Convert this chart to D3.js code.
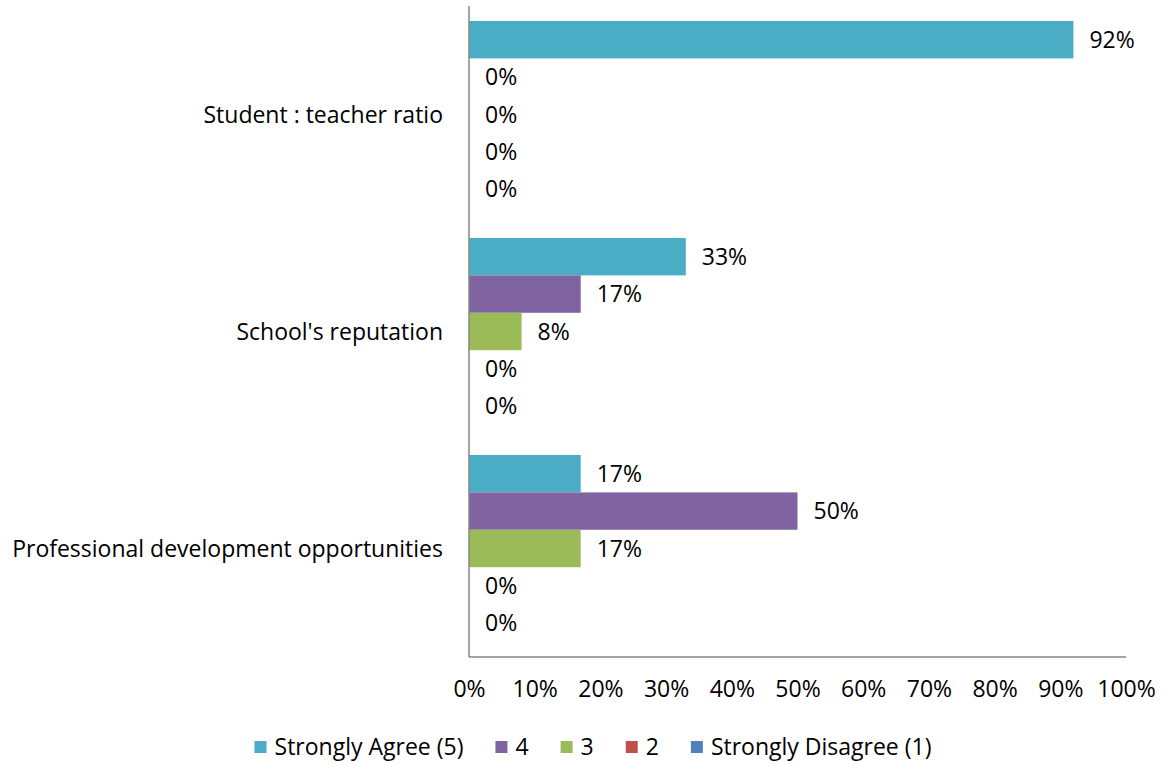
<!DOCTYPE html>
<html><head><meta charset="utf-8">
<script src="https://cdn.jsdelivr.net/npm/d3@7"></script>
<style>
body{margin:0;background:#fff;}
text{font-family:"Open Sans", sans-serif;fill:#000;}
</style></head>
<body><svg id="c" width="1164" height="765"></svg>
<script>
const categories = ["Student : teacher ratio", "School's reputation", "Professional development opportunities"];
const seriesNames = ["Strongly Agree (5)", "4", "3", "2", "Strongly Disagree (1)"];
const seriesColors = ["#4BACC6", "#8064A2", "#9BBB59", "#C0504D", "#4F81BD"];
// values[series][category], percent
const values = [
  [92, 33, 17],
  [0, 17, 50],
  [0, 8, 17],
  [0, 0, 0],
  [0, 0, 0]
];
const xTicks = [0,10,20,30,40,50,60,70,80,90,100];

(function(){
const FS = 23;
const svg = d3.select("#c");
const pLeft = 469, pRight = 1126, pTop = 6, pBottom = 657;
const x = d3.scaleLinear().domain([0,100]).range([pLeft,pRight]);
const y0 = d3.scaleBand().domain(categories).range([pTop,pBottom]).paddingInner(0.138).paddingOuter(0.069);
const y1 = d3.scaleBand().domain(seriesNames).range([0,y0.bandwidth()]);

const g = svg.append("g");
categories.forEach((cat,ci)=>{
  seriesNames.forEach((s,si)=>{
    const v = values[si][ci];
    const yy = y0(cat)+y1(s);
    g.append("rect").attr("x",x(0)).attr("y",yy).attr("width",x(v)-x(0)).attr("height",y1.bandwidth())
      .attr("fill",seriesColors[si]);
    g.append("text").attr("x",x(v)+16).attr("y",yy+y1.bandwidth()/2).attr("dy","0.35em")
      .attr("font-size",FS).text(v+"%");
  });
  svg.append("text").attr("x",443).attr("y",y0(cat)+y0.bandwidth()/2).attr("dy","0.35em")
    .attr("text-anchor","end").attr("font-size",FS).text(cat);
});

svg.append("line").attr("x1",pLeft).attr("x2",pLeft).attr("y1",pTop).attr("y2",pBottom).attr("stroke","#868686").attr("stroke-width",1.5);
svg.append("line").attr("x1",pLeft).attr("x2",pRight).attr("y1",pBottom).attr("y2",pBottom).attr("stroke","#868686").attr("stroke-width",1.5);

const xa = svg.append("g").attr("transform",`translate(0,${pBottom})`)
  .call(d3.axisBottom(x).tickValues(xTicks).tickFormat(d=>d+"%").tickSize(0).tickPadding(24));
xa.select(".domain").remove();
xa.selectAll("text").attr("font-size",FS).attr("fill","#000").style("font-family","'Open Sans', sans-serif");

// legend, laid out from measured text widths and centred
const GAP = 32;
const lg = svg.append("g");
let cx = 0;
seriesNames.forEach((s,i)=>{
  const item = lg.append("g").attr("transform",`translate(${cx},741)`);
  item.append("rect").attr("width",12).attr("height",12).attr("fill",seriesColors[i]);
  const t = item.append("text").attr("x",20).attr("y",6).attr("dy","0.35em").attr("font-size",FS).text(s);
  cx += 20 + t.node().getComputedTextLength() + GAP;
});
const total = cx - GAP;
lg.attr("transform",`translate(${593 - total/2},0)`);
})();
</script></body></html>
